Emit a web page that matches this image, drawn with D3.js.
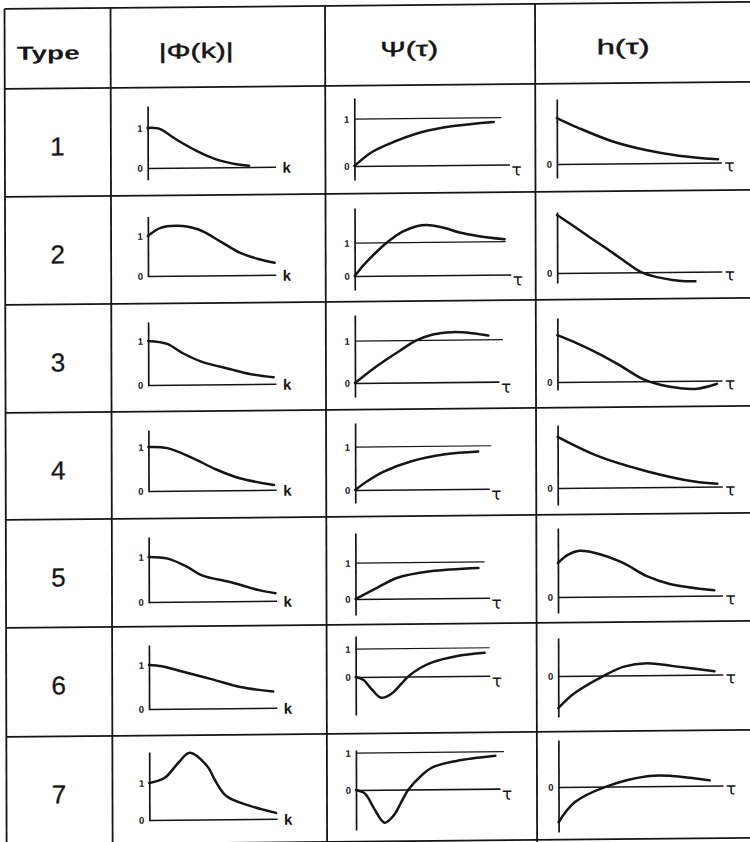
<!DOCTYPE html>
<html><head><meta charset="utf-8">
<script src="https://cdn.jsdelivr.net/npm/d3@7"></script>
<style>body{margin:0;background:#fff}</style>
</head><body>
<script>
// ---------------- DATA ----------------
const types = ["1", "2", "3", "4", "5", "6", "7"];
const headers = ["Type", "|Φ(k)|", "Ψ(τ)", "h(τ)"];
const axisLabels = ["k", "τ", "τ"];
const phiTickValues = [0, 1];
const psiTickValues = [0, 1];
const hTickValues = [0];
const psiLevel = 1;

// |Φ(k)| curves: [k (fraction of axis), value]
const phiCurves = [
  [[0,1],[0.05,1],[0.1,0.97],[0.23,0.7],[0.39,0.41],[0.54,0.2],[0.7,0.075],[0.8,0.035]],
  [[0,1],[0.1,1.2],[0.23,1.25],[0.4,1.15],[0.57,0.85],[0.72,0.57],[0.87,0.4],[1.0,0.3]],
  [[0,1],[0.15,0.93],[0.27,0.72],[0.42,0.52],[0.65,0.34],[0.8,0.23],[0.99,0.15]],
  [[0,1],[0.15,0.97],[0.34,0.75],[0.53,0.48],[0.72,0.27],[0.99,0.11]],
  [[0,1],[0.15,0.96],[0.3,0.78],[0.42,0.58],[0.65,0.42],[0.87,0.24],[1.0,0.17]],
  [[0,1],[0.1,0.97],[0.27,0.84],[0.5,0.66],[0.72,0.48],[0.98,0.37]],
  [[0,1],[0.12,1.13],[0.23,1.54],[0.32,1.81],[0.46,1.43],[0.52,1.05],[0.61,0.62],[0.8,0.35],[1.0,0.16]]
];
// Ψ(τ) curves
const psiCurves = [
  [[0,0],[0.11,0.28],[0.22,0.45],[0.44,0.7],[0.66,0.83],[0.93,0.91]],
  [[0,0],[0.07,0.38],[0.14,0.7],[0.22,1.02],[0.32,1.33],[0.42,1.5],[0.5,1.52],[0.6,1.43],[0.7,1.29],[0.82,1.18],[1.0,1.07]],
  [[0,0],[0.1,0.28],[0.2,0.53],[0.3,0.76],[0.41,1.0],[0.52,1.14],[0.65,1.19],[0.78,1.16],[0.89,1.1]],
  [[0,0],[0.08,0.2],[0.19,0.42],[0.37,0.65],[0.6,0.81],[0.82,0.87]],
  [[0,0],[0.15,0.32],[0.28,0.58],[0.5,0.75],[0.82,0.83]],
  [[0,0],[0.05,-0.1],[0.1,-0.4],[0.17,-0.75],[0.24,-0.6],[0.3,-0.28],[0.35,0],[0.43,0.3],[0.51,0.5],[0.67,0.71],[0.86,0.82]],
  [[0,0],[0.06,-0.1],[0.12,-0.5],[0.19,-0.89],[0.25,-0.7],[0.3,-0.35],[0.35,0],[0.43,0.35],[0.51,0.59],[0.67,0.76],[0.93,0.89]]
];
// h(τ) curves
const hCurves = [
  [[0,1.15],[0.13,0.9],[0.34,0.55],[0.54,0.33],[0.74,0.18],[0.98,0.08]],
  [[0,1.45],[0.1,1.17],[0.2,0.88],[0.3,0.6],[0.4,0.31],[0.51,0.0],[0.6,-0.12],[0.7,-0.2],[0.78,-0.235],[0.84,-0.24]],
  [[0,1.17],[0.12,0.96],[0.25,0.7],[0.38,0.4],[0.52,0.05],[0.63,-0.1],[0.74,-0.18],[0.85,-0.2],[0.97,-0.08]],
  [[0,1.28],[0.25,0.78],[0.54,0.4],[0.83,0.13],[0.97,0.07]],
  [[0,0.85],[0.06,1.05],[0.13,1.15],[0.22,1.1],[0.39,0.85],[0.54,0.5],[0.68,0.3],[0.95,0.13]],
  [[0,-0.8],[0.1,-0.43],[0.28,0],[0.4,0.22],[0.54,0.3],[0.7,0.22],[0.95,0.08]],
  [[0,-0.88],[0.1,-0.38],[0.29,0],[0.54,0.25],[0.69,0.25],[0.92,0.13]]
];

// ---------------- LAYOUT ----------------
const ink = "#151515";
const hLines = [9, 89, 197, 305, 413, 520, 628, 737, 845];
const vLines = [4.5, 110.5, 325, 535];
const rowTops = hLines.slice(1, 8);
const headerX = [48, 196, 409, 623];
const headerW = [63, 75, 58, 53];

const phiL = { x0: 147.3, x1: 274, end: 275,
  zero: [80.4,80.4,81.4,79.4,83.4,82.4,84.4], unit: [40,40,44,44,45,44,37],
  top: [18.5,21,18.5,18.5,18.5,18.5,16.5], below: [11,0,0,0,0,0,0] };
const psiL = { x0: 354, x1: 504,
  end: [509,510,498,488,488,488,498], ref: [501,505,502,490,483,488,502],
  zero: [80.4,82.4,81.4,80.4,82.4,52.4,56.4], unit: [47,33,42,43,36,28,37],
  top: [12.4,14.4,13.4,13.4,16.4,11.4,16.4], bottom: [94.4,96.4,95.4,93.4,98.4,90.4,96.4] };
const hL = { x0: 556.5, x1: 721, end: 721, unit: 40,
  zero: [80.3,81.3,82.3,80.3,82.3,53.3,55.3],
  top: [15.3,20.3,18.3,17.3,13.3,15.3,8.3], bottom: [94.3,91.3,90.3,97.3,98.3,94.3,100.3] };

// ---------------- DRAW ----------------
const svg = d3.select("body").append("svg").attr("width", 750).attr("height", 842);
svg.append("rect").attr("width", 750).attr("height", 842).attr("fill", "#fff");
const g = svg.append("g").attr("transform", "matrix(1,-0.0095,0.0025,1,0,0)");

g.selectAll("line.hl").data(hLines).join("line").attr("class", "hl")
  .attr("x1", 4.5).attr("x2", 775).attr("y1", d => d).attr("y2", d => d)
  .attr("stroke", ink).attr("stroke-width", 1.8);
g.selectAll("line.vl").data(vLines).join("line").attr("class", "vl")
  .attr("x1", d => d).attr("x2", d => d).attr("y1", 9).attr("y2", 870)
  .attr("stroke", ink).attr("stroke-width", 1.8);

g.selectAll("text.hdr").data(headers).join("text").attr("class", "hdr")
  .attr("x", (d, i) => headerX[i]).attr("y", 60)
  .attr("text-anchor", "middle")
  .attr("font-family", "'Liberation Sans', Arial, sans-serif")
  .attr("font-size", (d, i) => i === 0 ? 19 : 21)
  .attr("font-weight", (d, i) => i === 0 ? "bold" : "normal")
  .attr("stroke", (d, i) => i === 0 ? "none" : ink)
  .attr("stroke-width", 0.45)
  .attr("fill", ink)
  .attr("textLength", (d, i) => headerW[i])
  .attr("lengthAdjust", "spacingAndGlyphs")
  .text(d => d);

g.selectAll("text.typ").data(types).join("text").attr("class", "typ")
  .attr("x", 57).attr("y", (d, i) => rowTops[i] + 67)
  .attr("text-anchor", "middle")
  .attr("font-family", "'Liberation Sans', Arial, sans-serif")
  .attr("font-size", 26).attr("fill", ink)
  .attr("stroke", ink).attr("stroke-width", 0.3).text(d => d);

function panel(opts) {
  const { x0, x1, axisEnd, zeroPx, unit, topPx, bottomPx, ticks, data, label, labelDx, labelDy, labelBold, ref } = opts;
  const pg = g.append("g");
  const x = d3.scaleLinear().domain([0, 1]).range([x0, x1]);
  const y = d3.scaleLinear().domain([0, 1]).range([zeroPx, zeroPx - unit]);
  const yAxisScale = d3.scaleLinear().domain([y.invert(bottomPx), y.invert(topPx)]).range([bottomPx, topPx]);
  const xAxisScale = d3.scaleLinear().domain([0, x.invert(axisEnd)]).range([x0, axisEnd]);

  if (ref !== undefined) {
    pg.append("line").attr("x1", x(0)).attr("x2", ref).attr("y1", y(psiLevel)).attr("y2", y(psiLevel))
      .attr("stroke", ink).attr("stroke-width", 1.2);
  }
  const xa = pg.append("g").attr("transform", `translate(0,${y(0)})`)
    .call(d3.axisBottom(xAxisScale).tickValues([]).tickSizeOuter(0));
  xa.select(".domain").attr("stroke", ink).attr("stroke-width", 1.6);

  const ya = pg.append("g").attr("transform", `translate(${x0},0)`)
    .call(d3.axisLeft(yAxisScale).tickValues(ticks).tickSize(0).tickSizeOuter(0).tickPadding(5).tickFormat(d3.format("d")));
  ya.select(".domain").attr("stroke", ink).attr("stroke-width", 1.7);
  ya.selectAll(".tick text").attr("font-family", "'Liberation Sans', Arial, sans-serif")
    .attr("font-size", 9.5).attr("font-weight", "bold").attr("fill", ink);

  pg.append("path").datum(data)
    .attr("d", d3.line().x(d => x(d[0])).y(d => y(d[1])).curve(d3.curveCatmullRom.alpha(0.5)))
    .attr("fill", "none").attr("stroke", ink).attr("stroke-width", 2.5)
    .attr("stroke-linecap", "round").attr("stroke-linejoin", "round");

  pg.append("text").attr("x", axisEnd + labelDx).attr("y", y(0) + labelDy)
    .attr("font-family", labelBold ? "'Liberation Sans', Arial, sans-serif" : "'DejaVu Sans', sans-serif")
    .attr("font-size", labelBold ? 15 : 17).attr("font-weight", labelBold ? "bold" : "normal")
    .attr("fill", ink).text(label);
}

types.forEach((t, i) => {
  const top = rowTops[i];
  panel({ x0: phiL.x0, x1: phiL.x1, axisEnd: phiL.end,
    zeroPx: top + phiL.zero[i], unit: phiL.unit[i],
    topPx: top + phiL.top[i], bottomPx: top + phiL.zero[i] + phiL.below[i] + 0.8,
    ticks: phiTickValues, data: phiCurves[i], label: axisLabels[0], labelDx: 7, labelDy: 6, labelBold: true });
  panel({ x0: psiL.x0, x1: psiL.x1, axisEnd: psiL.end[i],
    zeroPx: top + psiL.zero[i], unit: psiL.unit[i],
    topPx: top + psiL.top[i], bottomPx: top + psiL.bottom[i],
    ticks: psiTickValues, data: psiCurves[i], label: axisLabels[1], labelDx: 2, labelDy: 11, labelBold: false,
    ref: psiL.ref[i] });
  panel({ x0: hL.x0, x1: hL.x1, axisEnd: hL.end,
    zeroPx: top + hL.zero[i], unit: hL.unit,
    topPx: top + hL.top[i], bottomPx: top + hL.bottom[i],
    ticks: hTickValues, data: hCurves[i], label: axisLabels[2], labelDx: 3, labelDy: 9, labelBold: false });
});
</script>
</body></html>
